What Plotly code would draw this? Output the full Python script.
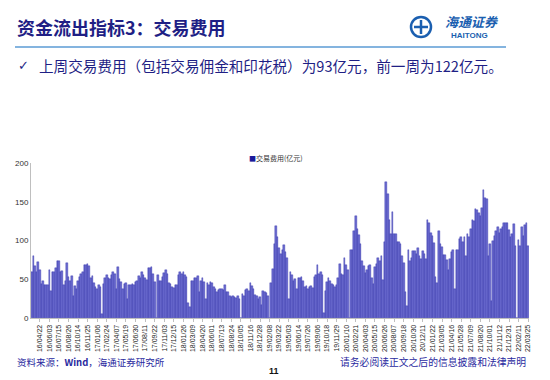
import plotly.graph_objects as go

# ---- data (weekly trading fees, 亿元) ----
values_part1 = [60, 80, 67, 60, 72, 62, 44, 48, 43, 43, 42, 62, 35, 60, 60, 65, 74, 73, 60, 61,
                42, 48, 71, 53, 48, 54, 28, 41, 38, 48, 53, 57, 59, 68, 68, 70, 67, 52, 54, 45,
                40, 38, 43, 40, 5, 44, 52, 55, 52, 50, 56, 59, 57, 37, 66, 50, 47, 38, 44, 45,
                24, 42, 42, 44, 42, 46, 48, 54, 52, 60, 56, 52, 49, 64, 65, 66, 57, 47, 0, 56,
                48, 48, 53, 58, 62, 57, 45, 44, 40, 39, 43, 43, 55, 60, 57, 59, 55, 53, 20, 14,
                48, 48, 52, 51, 54, 33, 48, 51, 46, 25, 45, 42, 47, 45, 40, 37, 33, 36, 37, 38,
                36, 43, 34, 33, 28, 27, 29, 27, 26, 28, 24, 0, 31, 28, 36, 37, 35, 45, 41, 38,
                30, 29, 25, 27, 17, 35, 33, 32, 29, 0]
values_part2 = [45, 63, 96, 119, 104, 90, 83, 88, 94, 85, 78, 25, 60, 55, 48, 50, 37, 52, 51, 53,
                48, 40, 41, 38, 40, 41, 39, 53, 56, 68, 57, 59, 55, 7, 35, 47, 52, 48, 44, 42,
                40, 42, 52, 70, 57, 56, 78, 68, 62, 0, 88, 88, 112, 131, 115, 107, 95, 74, 67, 58,
                62, 67, 68, 52, 44, 66, 70, 77, 73, 80, 49, 98, 175, 160, 127, 108, 137, 108, 108, 98,
                98, 96, 80, 71, 34, 15, 88, 73, 77, 87, 86, 83, 90, 80, 76, 87, 82, 76, 127, 122,
                110, 106, 97, 53, 45, 112, 96, 92, 81, 81, 75, 62, 76, 85, 88, 37, 88, 88, 102, 104,
                98, 104, 80, 108, 104, 115, 127, 125, 141, 140, 136, 131, 142, 165, 155, 153, 80, 95, 22, 100,
                106, 112, 118, 110, 115, 118, 123, 122, 123, 113, 104, 108, 121, 93, 0, 101, 93, 117, 106, 120,
                122, 93]
values = values_part1 + values_part2

tick_labels = ["16/04/22", "16/06/03", "16/07/15", "16/08/26", "16/10/14", "16/11/25", "17/01/06",
               "17/02/24", "17/04/07", "17/05/19", "17/06/30", "17/08/11", "17/09/22", "17/11/03",
               "17/12/15", "18/01/26", "18/03/09", "18/04/20", "18/06/01", "18/07/13", "18/08/24",
               "18/10/05", "18/11/16", "18/12/28", "19/02/08", "19/03/22", "19/05/03", "19/06/14",
               "19/07/26", "19/09/06", "19/10/18", "19/11/29", "20/01/10", "20/02/21", "20/04/03",
               "20/05/15", "20/06/26", "20/08/07", "20/09/18", "20/10/30", "20/12/11", "21/01/22",
               "21/03/05", "21/04/16", "21/05/28", "21/07/09", "21/08/20", "21/10/01", "21/11/12",
               "21/12/31", "22/02/11", "22/03/25"]

n = len(values)
x = list(range(n))
last = n - 1
tick_vals = [last - 6 * (len(tick_labels) - 1 - k) for k in range(len(tick_labels))]

# page body has an 8px margin; figure sized to fit the window
OFF = 8
W, H = 550 - OFF, 380 - OFF


def px(X):
    return (X - OFF) / W


def py(Y):
    return 1 - (Y - OFF) / H


BLUE_TXT = "#1F1F85"
CJK = "Noto Sans CJK SC"

fig = go.Figure()
fig.add_trace(go.Bar(
    x=x, y=values, name="交易费用(亿元)", showlegend=False,
    marker=dict(color="#6C6CCF", line=dict(color="#2E2EAA", width=0.4)),
))

fig.update_layout(
    width=W, height=H,
    margin=dict(l=0, r=0, t=0, b=0),
    paper_bgcolor="white", plot_bgcolor="white",
    bargap=0.0,
    showlegend=False,
    xaxis=dict(domain=[px(31), px(529)], range=[-0.5, n - 0.5],
               tickmode="array", tickvals=tick_vals, ticktext=tick_labels,
               tickangle=-90, tickfont=dict(family="Arial", size=7, color="#222"),
               showline=True, linecolor="#BFBFBF", linewidth=1,
               ticks="outside", ticklen=3, tickcolor="#BFBFBF",
               showgrid=False, zeroline=False, automargin=False),
    yaxis=dict(domain=[py(318), py(163)], range=[0, 200],
               tickvals=[0, 50, 100, 150, 200],
               tickfont=dict(family="Arial", size=8, color="#333"),
               showline=True, linecolor="#BFBFBF", linewidth=1,
               ticks="", showgrid=False, zeroline=False, automargin=False),
    font=dict(family=CJK),
)

ann = []
# legend (drawn as text)
ann.append(dict(text="<span style='color:#1A1A9A'>■</span>交易费用(亿元)", x=px(247), y=py(158),
                xref="paper", yref="paper", xanchor="left", yanchor="middle", showarrow=False,
                font=dict(family=CJK, size=7, color="#333")))
# title
ann.append(dict(text="<b>资金流出指标3：交易费用</b>", x=px(15), y=py(27), xref="paper", yref="paper",
                xanchor="left", yanchor="middle", showarrow=False,
                font=dict(family=CJK, size=18, color=BLUE_TXT)))
# subtitle
ann.append(dict(text="✓", x=px(16), y=py(66), xref="paper", yref="paper",
                xanchor="left", yanchor="middle", showarrow=False,
                font=dict(family="DejaVu Sans", size=13, color=BLUE_TXT)))
ann.append(dict(text="上周交易费用（包括交易佣金和印花税）为93亿元，前一周为122亿元。",
                x=px(37), y=py(66), xref="paper", yref="paper",
                xanchor="left", yanchor="middle", showarrow=False,
                font=dict(family=CJK, size=14.6, color=BLUE_TXT)))
# logo texts
ann.append(dict(text="<b><i>海通证券</i></b>", x=px(472), y=py(22), xref="paper", yref="paper",
                xanchor="center", yanchor="middle", showarrow=False,
                font=dict(family=CJK, size=13, color="#1B5FB0")))
ann.append(dict(text="<b>HAITONG</b>", x=px(469), y=py(35), xref="paper", yref="paper",
                xanchor="center", yanchor="middle", showarrow=False,
                font=dict(family="Arial", size=8, color="#1B5FB0")))
# footer
ann.append(dict(text="资料来源：<b>Wind</b>，海通证券研究所", x=px(15), y=py(362), xref="paper", yref="paper",
                xanchor="left", yanchor="middle", showarrow=False,
                font=dict(family=CJK, size=9.5, color="#2A2AA0")))
ann.append(dict(text="请务必阅读正文之后的信息披露和法律声明", x=px(528), y=py(362), xref="paper", yref="paper",
                xanchor="right", yanchor="middle", showarrow=False,
                font=dict(family=CJK, size=9.8, color="#2A2AA0")))
ann.append(dict(text="<b>11</b>", x=px(274), y=py(371), xref="paper", yref="paper",
                xanchor="center", yanchor="middle", showarrow=False,
                font=dict(family="Arial", size=9, color="#111")))
fig.update_layout(annotations=ann)

shapes = []
# rule under title
shapes.append(dict(type="line", xref="paper", yref="paper", x0=px(15), x1=px(506),
                   y0=py(47), y1=py(47), line=dict(color="#5B9BD5", width=1.5)))
# logo emblem
cx, cy, r = 421, 27, 10
shapes.append(dict(type="circle", xref="paper", yref="paper",
                   x0=px(cx - r), x1=px(cx + r), y0=py(cy + r), y1=py(cy - r),
                   line=dict(color="#1B5FB0", width=2.5), fillcolor="white"))
shapes.append(dict(type="line", xref="paper", yref="paper", x0=px(cx - 7), x1=px(cx + 7),
                   y0=py(cy), y1=py(cy), line=dict(color="#1B5FB0", width=2.5)))
shapes.append(dict(type="line", xref="paper", yref="paper", x0=px(cx), x1=px(cx),
                   y0=py(cy - 7), y1=py(cy + 7), line=dict(color="#1B5FB0", width=2.5)))
fig.update_layout(shapes=shapes)

fig.write_html("out.html")
